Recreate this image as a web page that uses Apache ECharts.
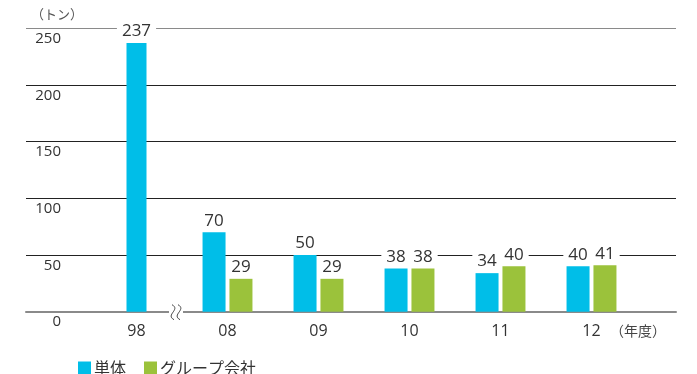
<!DOCTYPE html>
<html>
<head>
<meta charset="utf-8">
<script src="https://cdn.jsdelivr.net/npm/echarts@6/dist/echarts.min.js"></script>
<style>
  html, body { margin: 0; padding: 0; background: #fff; }
  #chart { width: 697px; height: 374px; }
</style>
</head>
<body>
<div id="chart"></div>
<script>
// Fiscal years on the horizontal axis (98 is separated from the rest by an axis break)
const years = ['98', '08', '09', '10', '11', '12'];
// Amounts in tonnes
const standalone = [237, 70, 50, 38, 34, 40];       // 単体
const groupCompanies = [null, 29, 29, 38, 40, 41];  // グループ会社
// Y axis range and step
const yMax = 250;
const yStep = 50;

const CYAN = '#00BEE8';
const GREEN = '#9BC23B';
const NUM_FONT = "'Open Sans', 'Noto Sans', sans-serif";
const JP_FONT = "'Noto Sans CJK JP', 'Noto Sans', sans-serif";

// The first year has only one bar, drawn centred on its slot; later years show a pair.
const singleData = years.map((_, i) => (groupCompanies[i] == null ? standalone[i] : '-'));
const pairStandalone = years.map((_, i) => (groupCompanies[i] == null ? '-' : standalone[i]));
const pairGroup = years.map((_, i) => (groupCompanies[i] == null ? '-' : groupCompanies[i]));

const valueLabel = {
  show: true,
  position: 'top',
  distance: 3,
  color: '#333',
  fontFamily: NUM_FONT,
  fontSize: 17,
  backgroundColor: '#fff',
  padding: [0, 5, 0, 5]
};

const gridTop = 28.2;
const gridBottom = 62.3;

const chart = echarts.init(document.getElementById('chart'), null, { renderer: 'canvas' });
chart.setOption({
  animation: false,
  backgroundColor: '#fff',
  grid: [
    // full-width grid carrying the horizontal rules and the baseline
    { left: 26, right: 21, top: gridTop, bottom: gridBottom },
    // grid holding the bars
    { left: 91, width: 546, top: gridTop, bottom: gridBottom }
  ],
  xAxis: [
    {
      gridIndex: 0, type: 'value', min: 0, max: 1,
      axisLine: { show: true, lineStyle: { color: '#8a8a8a', width: 2 } },
      axisTick: { show: false }, axisLabel: { show: false }, splitLine: { show: false }
    },
    {
      gridIndex: 1, type: 'category', data: years,
      axisLine: { show: false }, axisTick: { show: false },
      axisLabel: { color: '#333', fontFamily: NUM_FONT, fontSize: 16, margin: 12 }
    },
    {
      gridIndex: 1, type: 'category', data: years, show: false
    }
  ],
  yAxis: [
    {
      gridIndex: 0, type: 'value', min: 0, max: yMax, interval: yStep,
      axisLine: { show: false }, axisTick: { show: false },
      axisLabel: {
        inside: true, align: 'right', verticalAlign: 'top', margin: 35,
        padding: [3, 0, 0, 0],
        color: '#333', fontFamily: NUM_FONT, fontSize: 15
      },
      splitLine: {
        show: true,
        lineStyle: { color: ['#8a8a8a', '#222', '#222', '#222', '#222', '#8a8a8a'], width: 1 }
      }
    },
    {
      gridIndex: 1, type: 'value', min: 0, max: yMax, interval: yStep, show: false,
      splitLine: { show: false }
    }
  ],
  legend: {
    left: 73, top: 355,
    itemWidth: 13, itemHeight: 13, itemGap: 18,
    icon: 'rect',
    textStyle: { color: '#333', fontFamily: JP_FONT, fontSize: 16, padding: [0, 0, 0, -2] },
    data: ['単体', 'グループ会社']
  },
  series: [
    {
      name: '単体', type: 'bar', xAxisIndex: 1, yAxisIndex: 1,
      data: pairStandalone, barWidth: 23, barGap: '17%',
      itemStyle: { color: CYAN }, label: valueLabel
    },
    {
      name: 'グループ会社', type: 'bar', xAxisIndex: 1, yAxisIndex: 1,
      data: pairGroup, barWidth: 23, barGap: '17%',
      itemStyle: { color: GREEN }, label: valueLabel
    },
    {
      name: '単体', type: 'bar', xAxisIndex: 2, yAxisIndex: 1,
      data: singleData, barWidth: 20,
      itemStyle: { color: CYAN }, label: valueLabel
    }
  ]
});

// Unit captions and the axis break mark on the baseline
const baseY = chart.convertToPixel({ yAxisIndex: 1 }, 0);
const bx = 176;
const squiggle = (id, x) => ({
  id: id, type: 'bezierCurve', z: 11,
  shape: {
    x1: x - 1, y1: baseY - 7,
    x2: x + 1, y2: baseY + 8,
    cpx1: x + 8, cpy1: baseY - 2,
    cpx2: x - 8, cpy2: baseY + 3
  },
  style: { fill: null, stroke: '#444', lineWidth: 1 }
});
chart.setOption({
  graphic: [
    {
      id: 'unitTon', type: 'text', left: 31, top: 8,
      style: { text: '（トン）', fill: '#555', font: '13px ' + JP_FONT }
    },
    {
      id: 'unitYear', type: 'text', left: 610, top: 324,
      style: { text: '（年度）', fill: '#444', font: '14px ' + JP_FONT }
    },
    {
      id: 'breakGap', type: 'rect', z: 10,
      shape: { x: bx - 7, y: baseY - 3, width: 14, height: 6 },
      style: { fill: '#fff' }
    },
    squiggle('breakA', bx - 3),
    squiggle('breakB', bx + 3)
  ]
});
</script>
</body>
</html>
